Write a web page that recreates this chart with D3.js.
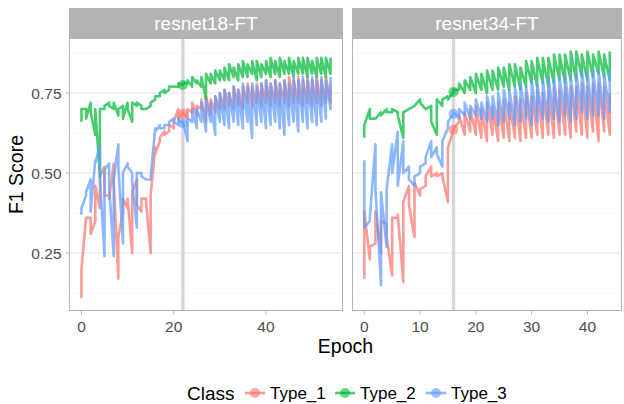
<!DOCTYPE html>
<html>
<head>
<meta charset="utf-8">
<script src="https://cdn.jsdelivr.net/npm/d3@7"></script>
<style>
  body { margin: 0; background: #fff; }
  text { font-family: "Liberation Sans", Arial, sans-serif; }
</style>
</head>
<body>
<svg id="chart" width="624" height="404"></svg>
<script>
// Categories / labels
const classes = ["Type_1", "Type_2", "Type_3"];
const classColors = ["#F8766D", "#00BA38", "#619CFF"];
const panelNames = ["resnet18-FT", "resnet34-FT"];
const bestEpoch = [22, 16];
const yTicks = [0.25, 0.5, 0.75];
const yMinorTicks = [0.125, 0.375, 0.625, 0.875];
const xTicksR18 = [0, 20, 40];
const xTicksR34 = [0, 10, 20, 30, 40];

// F1 scores, two readings per epoch (epoch = floor(index / 2))
const r18_type1 = [
  .11,.20, .36,.36, .36,.31, .35,.46, .39,.49, .52,.43, .43,.42, .53,.47, .17,.30, .38,.42,
  .39,.42, .25,.44, .48,.40, .38,.42, .42,.41, .25,.43, .58,.56, .60,.61, .63,.62, .63,.65,
  .64,.66, .70,.67, .685,.69, .67,.70, .69,.72, .68,.71, .70,.73, .66,.74, .68,.73, .69,.74,
  .70,.75, .70,.76, .71,.75, .70,.77, .71,.76, .70,.77, .72,.78, .71,.77, .72,.78, .71,.78,
  .72,.79, .71,.78, .72,.79, .71,.78, .72,.79, .71,.80, .72,.79, .72,.80, .71,.79, .72,.80,
  .71,.79, .72,.80, .71,.79, .72,.80, .72,.78
];
const r18_type2 = [
  .66,.70, .70,.67, .72,.69, .62,.70, .49,.70, .70,.71, .72,.71, .70,.72, .68,.70, .71,.67,
  .72,.70, .66,.72, .71,.72, .71,.70, .70,.70, .71,.72, .73,.74, .74,.75, .76,.75, .76,.77,
  .77,.77, .77,.78, .775,.78, .78,.79, .77,.80, .78,.79, .77,.80, .73,.81, .78,.81, .78,.82,
  .79,.82, .79,.83, .79,.84, .80,.83, .79,.84, .80,.85, .80,.84, .81,.85, .79,.85, .80,.84,
  .81,.85, .80,.86, .81,.85, .80,.86, .81,.85, .81,.86, .80,.85, .81,.86, .81,.86, .80,.86,
  .81,.85, .80,.86, .81,.86, .80,.86, .81,.86
];
const r18_type3 = [
  .37,.39, .43,.44, .48,.38, .54,.53, .59,.49, .24,.51, .53,.46, .24,.48, .59,.52, .28,.50,
  .53,.52, .50,.47, .33,.50, .50,.49, .48,.48, .48,.49, .64,.63, .65,.64, .64,.65, .65,.66,
  .67,.66, .65,.67, .655,.66, .60,.67, .66,.70, .64,.70, .66,.72, .63,.73, .66,.72, .62,.74,
  .66,.75, .65,.76, .64,.75, .66,.77, .65,.76, .64,.78, .66,.77, .61,.78, .65,.77, .66,.78,
  .64,.79, .65,.78, .66,.79, .64,.78, .62,.79, .65,.78, .66,.80, .63,.79, .66,.80, .64,.79,
  .66,.80, .65,.79, .66,.80, .67,.79, .70,.80
];
const r34_type1 = [
  .17,.38, .23,.27, .28,.38, .25,.35, .34,.30, .18,.36, .36,.37, .16,.41, .46,.40, .30,.47,
  .43,.45, .46,.49, .52,.49, .50,.49, .50,.49, .41,.58, .635,.64, .66,.68, .62,.69, .63,.70,
  .62,.71, .61,.70, .60,.72, .62,.71, .60,.72, .61,.73, .60,.72, .61,.74, .60,.73, .61,.75,
  .61,.74, .62,.76, .61,.75, .62,.76, .61,.77, .62,.76, .62,.77, .61,.77, .63,.77, .62,.78,
  .61,.77, .63,.78, .60,.78, .63,.77, .62,.75
];
const r34_type2 = [
  .61,.65, .70,.67, .67,.67, .69,.68, .70,.69, .69,.70, .69,.68, .61,.69, .70,.70, .71,.71,
  .73,.72, .70,.70, .71,.66, .62,.73, .71,.73, .74,.73, .753,.76, .76,.78, .75,.79, .76,.80,
  .75,.81, .76,.81, .75,.82, .76,.82, .76,.83, .77,.83, .76,.84, .77,.84, .76,.83, .77,.85,
  .78,.85, .77,.86, .78,.86, .77,.86, .78,.87, .79,.87, .78,.87, .79,.88, .79,.88, .80,.87,
  .79,.88, .80,.87, .81,.88, .80,.87, .79,.88
];
const r34_type3 = [
  .54,.33, .35,.36, .59,.45, .15,.44, .27,.45, .59,.50, .63,.46, .60,.50, .52,.48, .46,.49,
  .50,.52, .53,.55, .60,.55, .58,.56, .52,.60, .64,.66, .685,.69, .67,.70, .68,.72, .67,.71,
  .68,.73, .67,.72, .66,.74, .67,.74, .65,.75, .66,.76, .67,.76, .65,.77, .66,.78, .67,.77,
  .65,.79, .66,.78, .67,.79, .66,.80, .67,.79, .66,.80, .68,.81, .66,.80, .67,.81, .69,.82,
  .67,.81, .68,.82, .68,.82, .67,.81, .69,.82
];

const panelSeries = [
  [r18_type1, r18_type2, r18_type3],
  [r34_type1, r34_type2, r34_type3]
];
const panelXTicks = [xTicksR18, xTicksR34];

const svg = d3.select("#chart");
const stripTop = 8, panelTop = 38, panelBottom = 311;
const panelX = [[69, 343], [352, 622]];
const tickColor = "#b3b3b3";

const y = d3.scaleLinear().domain([0.069, 0.922]).range([panelBottom, panelTop]);

function toPoints(values) {
  return values.map((v, i) => ({ epoch: Math.floor(i / 2), value: v }));
}

panelNames.forEach((name, p) => {
  const [x0, x1] = panelX[p];
  const series = panelSeries[p];
  const maxEpoch = series[0].length / 2 - 1;
  const pad = maxEpoch * 0.05;
  const x = d3.scaleLinear().domain([-pad, maxEpoch + pad]).range([x0, x1]);

  const g = svg.append("g");

  // grid
  g.selectAll(".minor").data(yMinorTicks).enter().append("line")
    .attr("x1", x0).attr("x2", x1)
    .attr("y1", d => y(d)).attr("y2", d => y(d))
    .attr("stroke", "#f3f3f3").attr("stroke-width", 0.7);
  g.selectAll(".major").data(yTicks).enter().append("line")
    .attr("x1", x0).attr("x2", x1)
    .attr("y1", d => y(d)).attr("y2", d => y(d))
    .attr("stroke", "#e6e6e6").attr("stroke-width", 1);

  // best epoch marker
  g.append("line")
    .attr("x1", x(bestEpoch[p])).attr("x2", x(bestEpoch[p]))
    .attr("y1", panelTop).attr("y2", panelBottom)
    .attr("stroke", "#d6d6d6").attr("stroke-width", 3.3);

  const line = d3.line().x(d => x(d.epoch)).y(d => y(d.value));

  series.forEach((vals, c) => {
    g.append("path")
      .datum(toPoints(vals))
      .attr("d", line)
      .attr("fill", "none")
      .attr("stroke", classColors[c])
      .attr("stroke-opacity", 0.72)
      .attr("stroke-width", 2.6)
      .attr("stroke-linejoin", "round");
  });

  series.forEach((vals, c) => {
    g.append("circle")
      .attr("cx", x(bestEpoch[p]))
      .attr("cy", y(vals[bestEpoch[p] * 2]))
      .attr("r", 5)
      .attr("fill", classColors[c])
      .attr("fill-opacity", 0.6);
  });

  // border
  g.append("rect")
    .attr("x", x0 + 0.5).attr("y", panelTop + 0.5)
    .attr("width", x1 - x0 - 1).attr("height", panelBottom - panelTop - 1)
    .attr("fill", "none").attr("stroke", "#b3b3b3").attr("stroke-width", 1);

  // strip
  g.append("rect")
    .attr("x", x0).attr("y", stripTop)
    .attr("width", x1 - x0).attr("height", panelTop - stripTop)
    .attr("fill", "#b3b3b3");
  g.append("text")
    .attr("x", (x0 + x1) / 2).attr("y", (stripTop + panelTop) / 2)
    .attr("dy", "0.36em")
    .attr("text-anchor", "middle")
    .attr("fill", "#fff")
    .attr("font-size", "19px")
    .text(name);

  // x ticks + labels
  g.selectAll(".xtk").data(panelXTicks[p]).enter().append("line")
    .attr("x1", d => x(d)).attr("x2", d => x(d))
    .attr("y1", panelBottom).attr("y2", panelBottom + 3.5)
    .attr("stroke", tickColor).attr("stroke-width", 1);
  g.selectAll(".xt").data(panelXTicks[p]).enter().append("text")
    .attr("x", d => x(d)).attr("y", panelBottom + 21)
    .attr("text-anchor", "middle")
    .attr("fill", "#4d4d4d")
    .attr("font-size", "15.5px")
    .text(d => d);
});

// y ticks + labels
svg.selectAll(".ytk").data(yTicks).enter().append("line")
  .attr("x1", panelX[0][0] - 3.5).attr("x2", panelX[0][0])
  .attr("y1", d => y(d)).attr("y2", d => y(d))
  .attr("stroke", tickColor).attr("stroke-width", 1);
svg.selectAll(".yt").data(yTicks).enter().append("text")
  .attr("x", 61.5).attr("y", d => y(d))
  .attr("dy", "0.36em")
  .attr("text-anchor", "end")
  .attr("fill", "#4d4d4d")
  .attr("font-size", "15.5px")
  .text(d => d3.format(".2f")(d));

// axis titles
svg.append("text")
  .attr("x", (panelX[0][0] + panelX[1][1]) / 2).attr("y", 353)
  .attr("text-anchor", "middle")
  .attr("font-size", "19.5px")
  .attr("fill", "#000")
  .text("Epoch");
svg.append("text")
  .attr("transform", `translate(23,${(panelTop + panelBottom) / 2}) rotate(-90)`)
  .attr("text-anchor", "middle")
  .attr("font-size", "19.5px")
  .attr("fill", "#000")
  .text("F1 Score");

// legend
const legendY = 393;
const lg = svg.append("g");
lg.append("text")
  .attr("x", 187).attr("y", 400)
  .attr("font-size", "19px").text("Class");
const keyX = [244, 334, 425];
classes.forEach((c, i) => {
  lg.append("line")
    .attr("x1", keyX[i] + 1).attr("x2", keyX[i] + 21)
    .attr("y1", legendY).attr("y2", legendY)
    .attr("stroke", classColors[i]).attr("stroke-opacity", 0.72)
    .attr("stroke-width", 2.6);
  lg.append("circle")
    .attr("cx", keyX[i] + 11).attr("cy", legendY).attr("r", 5)
    .attr("fill", classColors[i]).attr("fill-opacity", 0.6);
  lg.append("text")
    .attr("x", keyX[i] + 26).attr("y", 399)
    .attr("font-size", "17px").text(c);
});
</script>
</body>
</html>
